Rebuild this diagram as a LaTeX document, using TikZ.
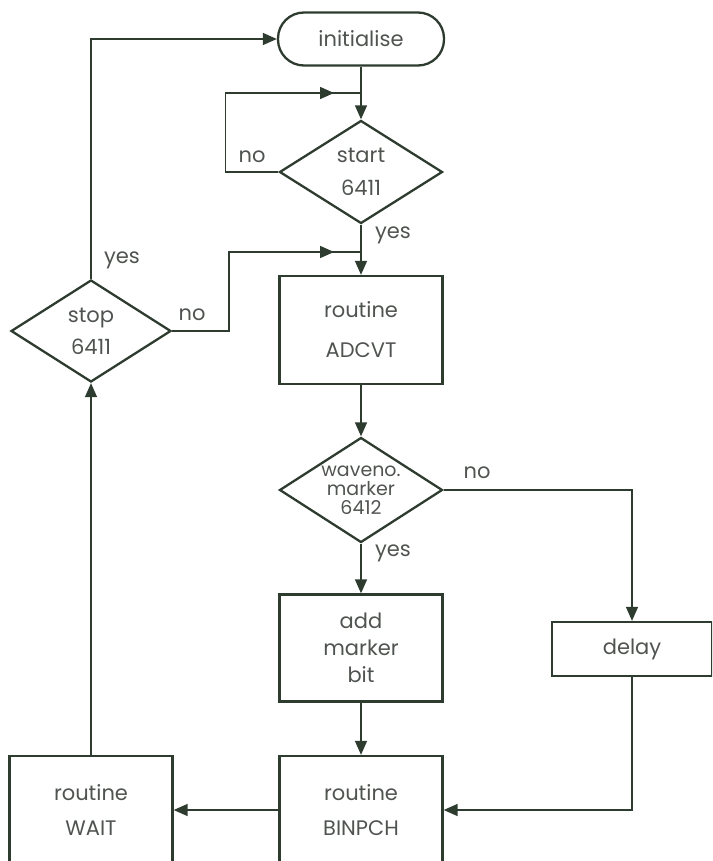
\documentclass[tikz,border=0pt]{standalone}
\usepackage{fontspec}
\setmainfont{Poppins}
\usepackage{xcolor}
\usepackage{tikz}
\usetikzlibrary{shapes.geometric,arrows.meta,decorations.markings}
\definecolor{inkline}{RGB}{46,60,48}
\definecolor{inktext}{RGB}{80,84,80}

\begin{document}
\begin{tikzpicture}[x=1pt,y=-1pt]
\tikzstyle{terminal} = [draw=inkline,line width=2.3pt,rounded corners=26pt,minimum width=166pt,minimum height=53pt,text=inktext,font=\fontsize{21}{24}\selectfont];
\tikzstyle{decision} = [diamond,draw=inkline,line width=2.3pt,inner sep=0,minimum width=163pt,minimum height=103pt,align=center,text=inktext,font=\fontsize{21}{24}\selectfont];
\tikzstyle{process} = [draw=inkline,line width=2.3pt,minimum width=163pt,minimum height=108pt,align=center,text=inktext,font=\fontsize{21}{24}\selectfont];
\tikzstyle{flow} = [draw=inkline,line width=1.5pt,-{Triangle[length=14pt,width=12pt]}];
\tikzstyle{merge} = [draw=inkline,line width=1.5pt,postaction={decorate},decoration={markings,mark=at position -27pt with {\arrow{Triangle[length=14pt,width=12pt]}}}];
\tikzstyle{answer} = [text=inktext,font=\fontsize{21}{24}\selectfont];
\useasboundingbox (0,0) rectangle (712,861);
\clip (0,0) rectangle (712,861);
\node [terminal] (init) at (361,39) {initialise};
\node [decision] (start) at (361,172) {start\\[9pt]6411};
\node [process] (adcvt) at (361,330) {routine\\[16pt]ADCVT};
\node [decision,minimum width=160pt,minimum height=102pt] (stop) at (91,331) {stop\\[8pt]6411};
\node [decision,minimum height=105pt,inner sep=-22pt,font=\fontsize{19}{22}\selectfont] (marker) at (361,490) {waveno.\\[-3pt]marker\\[-3pt]6412};
\node [process,minimum height=107pt] (addbit) at (361,648) {add\\[3pt]marker\\[3pt]bit};
\node [process,minimum width=160pt,minimum height=54pt] (delay) at (632,649) {delay};
\node [process] (binpch) at (361,810) {routine\\[11pt]BINPCH};
\node [process] (wait) at (91,810) {routine\\[11pt]WAIT};
\coordinate (j1) at (361,93);
\coordinate (j2) at (361,252);
\draw [flow] (init) -- (start);
\draw [merge] (start.west) -- ++(-53,0) |- (j1);
\draw [flow] (start) -- (adcvt);
\draw [merge] (stop.east) -- ++(57,0) |- (j2);
\draw [flow] (adcvt) -- (marker);
\draw [flow] (marker) -- (addbit);
\draw [flow] (marker.east) -| (delay.north);
\draw [flow] (addbit) -- (binpch);
\draw [flow] (delay.south) |- (binpch.east);
\draw [flow] (binpch) -- (wait);
\draw [flow] (wait) -- (stop);
\draw [flow] (stop.north) |- (init.west);
\node [answer] (no1) at (252,157) {no};
\node [answer] (yes1) at (393,235) {yes};
\node [answer] (yes2) at (122,260) {yes};
\node [answer] (no2) at (192,315) {no};
\node [answer] (no3) at (477,473) {no};
\node [answer] (yes3) at (393,553) {yes};
\end{tikzpicture}
\end{document}
